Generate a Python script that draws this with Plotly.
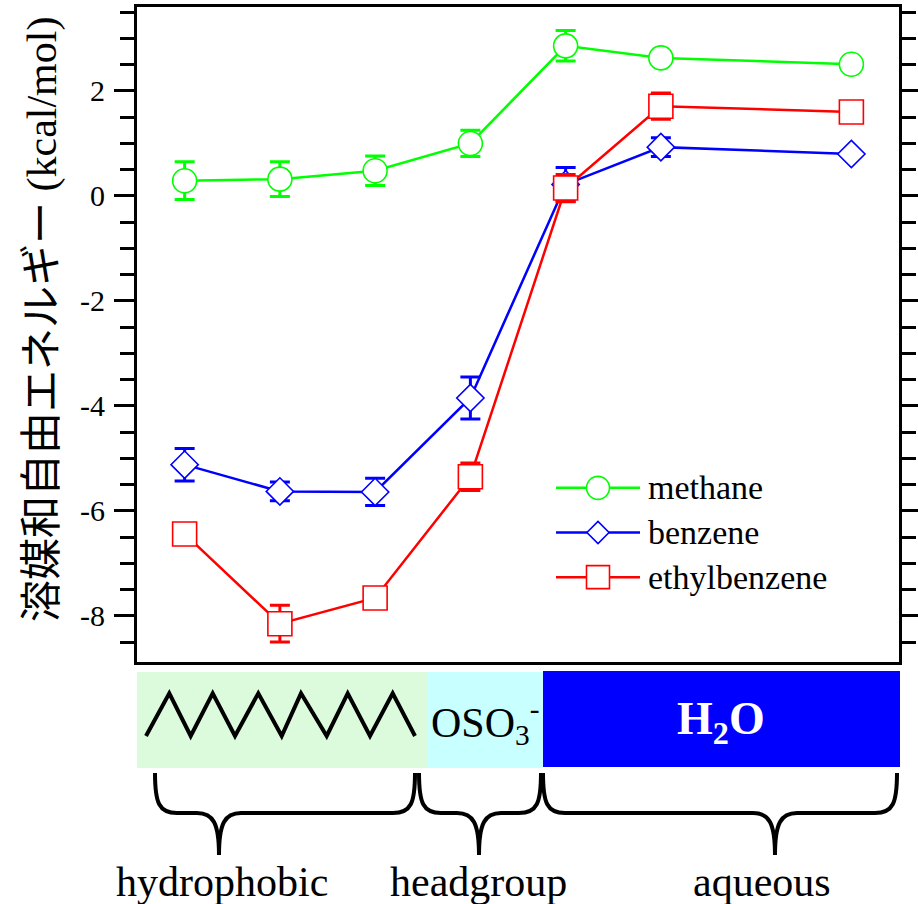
import plotly.graph_objects as go

# ---------------- data ----------------
positions = [1, 2, 3, 4, 5, 6, 8]
series_names = ["methane", "benzene", "ethylbenzene"]
methane = [0.29, 0.32, 0.48, 1.00, 2.86, 2.63, 2.51]
methane_err = [0.36, 0.33, 0.28, 0.25, 0.29, 0.0, 0.0]
benzene = [-5.12, -5.63, -5.64, -3.85, 0.22, 0.93, 0.80]
benzene_err = [0.31, 0.18, 0.26, 0.40, 0.32, 0.18, 0.0]
ethylbenzene = [-6.44, -8.15, -7.66, -5.35, 0.15, 1.71, 1.60]
ethylbenzene_err = [0.0, 0.35, 0.10, 0.26, 0.26, 0.25, 0.0]
y_tickvals = [-8, -6, -4, -2, 0, 2]
y_ticktext = ["-8", "-6", "-4", "-2", "0", "2"]
region_labels = ["hydrophobic", "headgroup", "aqueous"]

# ---------------- layout helpers ----------------
W, H = 918, 904
L, R, T, B = 137, 899, 7, 662
def px(x):
    return (x - L) / (R - L)
def py(y):
    return (B - y) / (B - T)

SERIF = "Liberation Serif, Times New Roman, serif"
colors = ["#00ff00", "#0000ff", "#ff0000"]
symbols = ["circle", "diamond", "square"]
msizes = [24, 21, 24]
values = [methane, benzene, ethylbenzene]
errs = [methane_err, benzene_err, ethylbenzene_err]

fig = go.Figure()
for name, yv, ev, c, s, ms in zip(series_names, values, errs, colors, symbols, msizes):
    fig.add_trace(go.Scatter(
        x=positions, y=yv, name=name, mode="lines+markers",
        line=dict(color=c, width=2.5),
        marker=dict(symbol=s, size=ms, color="white", line=dict(color=c, width=1.6)),
        error_y=dict(type="data", array=ev, visible=True, color=c,
                     thickness=3, width=10),
        showlegend=False, cliponaxis=False,
    ))

# custom legend drawn in a small auxiliary subplot
leg_rows = [2, 1, 0]
leg_sizes = [23, 17, 23]
for name, c, s, ms, row in zip(series_names, colors, symbols, leg_sizes, leg_rows):
    fig.add_trace(go.Scatter(x=[0, 1], y=[row, row], mode="lines",
                             line=dict(color=c, width=2.5), xaxis="x2", yaxis="y2",
                             showlegend=False, hoverinfo="skip"))
    fig.add_trace(go.Scatter(x=[0.5], y=[row], mode="markers",
                             marker=dict(symbol=s, size=ms, color="white",
                                         line=dict(color=c, width=1.6)),
                             xaxis="x2", yaxis="y2", showlegend=False, hoverinfo="skip"))

annotations = []
for name, row in zip(series_names, leg_rows):
    annotations.append(dict(x=1, y=row, xref="x2", yref="y2", text=name, showarrow=False,
                            xanchor="left", yanchor="middle", xshift=6,
                            font=dict(family=SERIF, size=34, color="black")))

# y-axis title
annotations.append(dict(
    x=px(37), y=py(320), xref="paper", yref="paper", textangle=-90,
    text="<span style='font-family:Noto Sans CJK JP'>溶媒和自由エネルギー</span> (kcal/mol)",
    showarrow=False, xanchor="center", yanchor="middle",
    font=dict(family=SERIF, size=42, color="black")))

# bottom band labels
annotations.append(dict(x=px(485), y=py(722), xref="paper", yref="paper",
                        text="OSO<sub>3</sub><sup>-</sup>", showarrow=False,
                        xanchor="center", yanchor="middle",
                        font=dict(family=SERIF, size=42, color="black")))
annotations.append(dict(x=px(721), y=py(722), xref="paper", yref="paper",
                        text="<b>H<sub>2</sub>O</b>", showarrow=False,
                        xanchor="center", yanchor="middle",
                        font=dict(family=SERIF, size=46, color="white")))
for lab, cx in zip(region_labels, [222, 478, 762]):
    annotations.append(dict(x=px(cx), y=py(882), xref="paper", yref="paper",
                            text=lab, showarrow=False, xanchor="center", yanchor="middle",
                            font=dict(family=SERIF, size=42, color="black")))

shapes = []
# coloured bands
for x0, x1, y0, y1, fc in [(137, 427, 672, 768, "#dcfadc"),
                           (427, 543, 672, 768, "#c8ffff"),
                           (543, 900, 671, 767, "#0000ff")]:
    shapes.append(dict(type="rect", xref="paper", yref="paper",
                       x0=px(x0), x1=px(x1), y0=py(y1), y1=py(y0),
                       fillcolor=fc, line=dict(width=0), layer="below"))

# zigzag (alkyl chain)
zx = [146, 169.3, 190.7, 212.7, 235, 258.3, 281.7, 301, 326.7, 347.7, 370, 392.7, 415]
zy = [736 if i % 2 == 0 else 693.3 for i in range(len(zx))]
path = "M " + " L ".join(f"{px(a):.5f},{py(b):.5f}" for a, b in zip(zx, zy))
shapes.append(dict(type="path", xref="paper", yref="paper", path=path,
                   line=dict(color="black", width=4)))

# curly braces
def brace(x0, x1, xt, ytop=773, ymid=813, ytip=855, r=22):
    r = min(r, (xt - x0) / 2.2, (x1 - xt) / 2.2)
    pts = [
        ("M", [(x0, ytop)]),
        ("C", [(x0, ymid - 10), (x0 + 4, ymid), (x0 + r, ymid)]),
        ("L", [(xt - r, ymid)]),
        ("C", [(xt - 6, ymid), (xt, ymid + 10), (xt, ytip)]),
        ("C", [(xt, ymid + 10), (xt + 6, ymid), (xt + r, ymid)]),
        ("L", [(x1 - r, ymid)]),
        ("C", [(x1 - 4, ymid), (x1, ymid - 10), (x1, ytop)]),
    ]
    s = ""
    for cmd, ps in pts:
        s += cmd + " " + " ".join(f"{px(a):.5f},{py(b):.5f}" for a, b in ps) + " "
    return s

for x0, x1, xt in [(155, 415, 219), (419, 541, 479), (543, 897, 775)]:
    shapes.append(dict(type="path", xref="paper", yref="paper", path=brace(x0, x1, xt),
                       line=dict(color="black", width=4)))

fig.update_layout(
    width=W, height=H,
    margin=dict(l=L, r=W - R, t=T, b=H - B, autoexpand=False),
    paper_bgcolor="white", plot_bgcolor="white",
    showlegend=False,
    xaxis=dict(range=[0.5, 8.5], showticklabels=False, ticks="", showgrid=False,
               zeroline=False, showline=True, mirror=True, linecolor="black", linewidth=3),
    yaxis=dict(range=[-8.88, 3.6], tickvals=y_tickvals, ticktext=y_ticktext,
               ticks="outside", ticklen=20, ticklabelstandoff=3,
               tickwidth=3, tickcolor="black", showgrid=False, zeroline=False,
               showline=True, mirror="ticks", linecolor="black", linewidth=3,
               tickfont=dict(family=SERIF, size=30, color="black"),
               minor=dict(dtick=0.5, ticks="outside", ticklen=14, tickwidth=3,
                          tickcolor="black", showgrid=False)),
    xaxis2=dict(domain=[px(556), px(640)], range=[0, 1], visible=False, anchor="y2"),
    yaxis2=dict(domain=[py(599.5), py(465.5)], range=[-0.5, 2.5], visible=False, anchor="x2"),
    annotations=annotations,
    shapes=shapes,
)

fig.write_html("out.html", config={"displayModeBar": False},
               post_script="document.body.style.margin='0px';")
